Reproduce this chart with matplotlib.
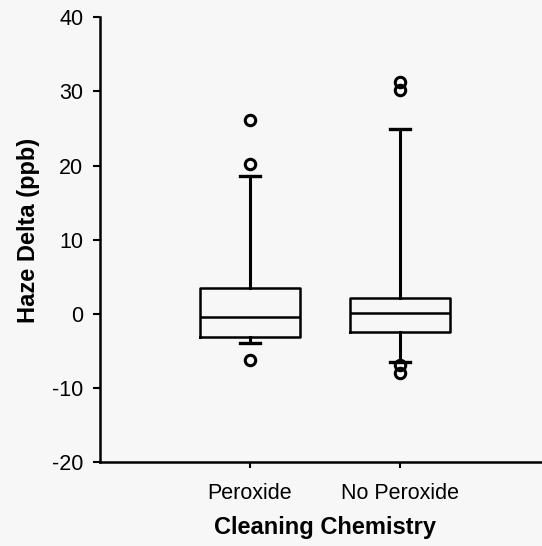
import matplotlib
matplotlib.use("Agg")
import matplotlib.pyplot as plt

categories = ["Peroxide", "No Peroxide"]
q1 = [-3.1, -2.4]
median = [-0.45, 0.1]
q3 = [3.55, 2.2]
whisker_low = [-3.95, -6.5]
whisker_high = [18.6, 24.9]
outliers = [[26.2, 20.2, -6.2], [31.2, 30.2, -6.9, -8.0]]
yticks = [-20, -10, 0, 10, 20, 30, 40]

plt.rcParams['font.family'] = ['Liberation Sans', 'DejaVu Sans']
bg = '#f7f7f7'
fig = plt.figure(figsize=(5.42, 5.46), dpi=100, facecolor=bg)
ax = fig.add_axes([100/542, (546-462.4)/546, 450/542, 445.2/546], facecolor=bg)

stats = []
for i, c in enumerate(categories):
    stats.append(dict(label=c, q1=q1[i], med=median[i], q3=q3[i],
                      whislo=whisker_low[i], whishi=whisker_high[i],
                      fliers=outliers[i]))

positions = [1, 2]
ax.bxp(stats, positions=positions, widths=0.67, capwidths=0.13,
       boxprops=dict(color='black', linewidth=1.8),
       medianprops=dict(color='black', linewidth=1.8),
       whiskerprops=dict(color='black', linewidth=2.2),
       capprops=dict(color='black', linewidth=2.4),
       flierprops=dict(marker='o', markerfacecolor='none', markeredgecolor='black',
                       markersize=7.5, markeredgewidth=2.2),
       manage_ticks=False)

ax.set_xlim(0, 3)
ax.set_ylim(-20, 40)
ax.set_yticks(yticks)
ax.set_yticklabels([str(t) for t in yticks])
ax.set_xticks(positions)
ax.set_xticklabels(categories)

for s in ['top', 'right']:
    ax.spines[s].set_visible(False)
for s in ['left', 'bottom']:
    ax.spines[s].set_linewidth(1.8)
    ax.spines[s].set_color('black')

ax.tick_params(axis='y', direction='out', length=5, width=1.5, pad=7, labelsize=15.5)
ax.tick_params(axis='x', direction='out', length=4.5, width=1.5, pad=10.5, labelsize=15.5)

ax.set_xlabel("Cleaning Chemistry", fontsize=17, fontweight='bold')
ax.set_ylabel("Haze Delta (ppb)", fontsize=17, fontweight='bold')
ax.xaxis.set_label_coords(0.5, -0.121)
ax.yaxis.set_label_coords(-0.133, 0.52)

fig.savefig("out.png", dpi=100, facecolor=bg)
